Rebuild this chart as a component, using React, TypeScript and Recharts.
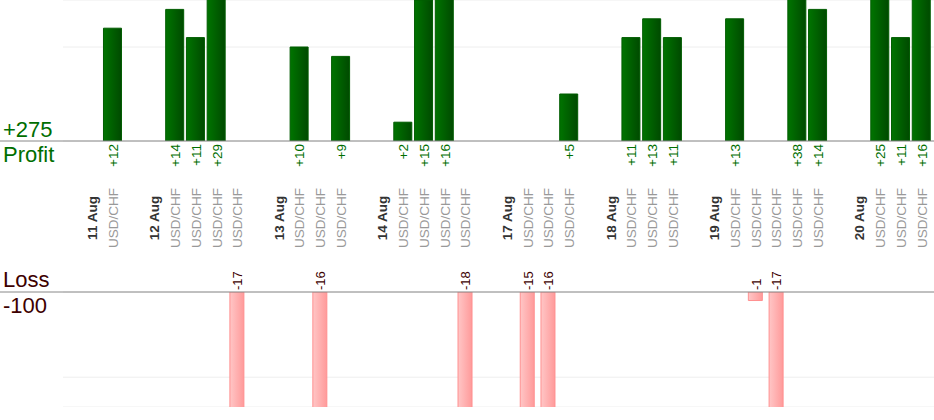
import { BarChart, Bar, XAxis, YAxis, CartesianGrid } from "recharts";

// one entry per slot on the shared x axis ("" = gap between days)
const slotLabels: string[] = [
  "", "11 Aug", "USD/CHF",
  "", "12 Aug", "USD/CHF", "USD/CHF", "USD/CHF", "USD/CHF",
  "", "13 Aug", "USD/CHF", "USD/CHF", "USD/CHF",
  "", "14 Aug", "USD/CHF", "USD/CHF", "USD/CHF", "USD/CHF",
  "", "17 Aug", "USD/CHF", "USD/CHF", "USD/CHF",
  "", "18 Aug", "USD/CHF", "USD/CHF", "USD/CHF",
  "", "19 Aug", "USD/CHF", "USD/CHF", "USD/CHF", "USD/CHF", "USD/CHF",
  "", "20 Aug", "USD/CHF", "USD/CHF", "USD/CHF",
];

const profitValues: (number | null)[] = [
  null, null, 12,
  null, null, 14, 11, 29, null,
  null, null, 10, null, 9,
  null, null, 2, 15, 16, null,
  null, null, null, null, 5,
  null, null, 11, 13, 11,
  null, null, 13, null, null, 38, 14,
  null, null, 25, 11, 16,
];

const lossValues: (number | null)[] = [
  null, null, null,
  null, null, null, null, null, -17,
  null, null, null, -16, null,
  null, null, null, null, null, -18,
  null, null, -15, -16, null,
  null, null, null, null, null,
  null, null, null, -1, -17, null, null,
  null, null, null, null, null,
];

const data = slotLabels.map((label, i) => ({
  slot: String(i),
  label,
  profit: profitValues[i],
  loss: lossValues[i],
}));

const totalProfit = profitValues.reduce<number>((s, v) => s + (v ?? 0), 0);
const totalLoss = lossValues.reduce<number>((s, v) => s + (v ?? 0), 0);

const FONT = "'Liberation Sans', Arial, sans-serif";
const GREEN = "#006e00";
const MAROON = "#3d0000";

const ProfitTick = (props: any) => {
  const { x, y, payload } = props;
  const i = Number(payload.value);
  const label = slotLabels[i];
  const p = profitValues[i];
  const isDate = label.endsWith("Aug");
  return (
    <g>
      {p != null && (
        <text
          transform={`translate(${x + 5},${y + 3}) rotate(-90)`}
          textAnchor="end"
          fill={GREEN}
          fontSize={13.5}
          fontFamily={FONT}
        >
          {`+${p}`}
        </text>
      )}
      {label && (
        <text
          transform={`translate(${x + 5},${y + 77}) rotate(-90)`}
          textAnchor="middle"
          fill={isDate ? "#333" : "#999"}
          fontWeight={isDate ? "bold" : "normal"}
          fontSize={13.5}
          fontFamily={FONT}
        >
          {label}
        </text>
      )}
    </g>
  );
};

const LossTick = (props: any) => {
  const { x, y, payload } = props;
  const l = lossValues[Number(payload.value)];
  if (l == null) return <g />;
  return (
    <text
      transform={`translate(${x + 5},${y - 2}) rotate(-90)`}
      textAnchor="start"
      fill={MAROON}
      fontSize={13}
      fontFamily={FONT}
    >
      {String(l)}
    </text>
  );
};

const sideLabel = (text: string, top: number, color: string) => (
  <div
    style={{
      position: "absolute",
      left: 3,
      top,
      fontSize: 22,
      lineHeight: "22px",
      fontFamily: FONT,
      color,
    }}
  >
    {text}
  </div>
);

export default function App() {
  return (
    <div style={{ position: "absolute", left: 0, top: 0, width: 934, height: 420, background: "#fff" }}>
      {/* Profit */}
      <div style={{ position: "absolute", left: 0, top: 0 }}>
        <BarChart width={934} height={250} data={data} margin={{ top: 0, right: 0, bottom: 0, left: 0 }}>
          <defs>
            <linearGradient id="gProfit" x1="0" y1="0" x2="1" y2="0">
              <stop offset="0%" stopColor="#007400" />
              <stop offset="100%" stopColor="#004a00" />
            </linearGradient>
          </defs>
          <CartesianGrid vertical={false} stroke="#eee" x={63} width={871} />
          <XAxis
            dataKey="slot"
            interval={0}
            height={109}
            tickSize={0}
            tickMargin={0}
            tickLine={false}
            padding={{ left: 61, right: 2 }}
            axisLine={{ stroke: "#888" }}
            tick={<ProfitTick />}
          />
          <YAxis hide domain={[0, 15]} ticks={[10]} allowDataOverflow />
          <Bar
            dataKey="profit"
            barSize={18}
            fill="url(#gProfit)"
            stroke="#005c00"
            strokeWidth={1}
            isAnimationActive={false}
          />
        </BarChart>
      </div>

      {/* Loss */}
      <div style={{ position: "absolute", left: 0, top: 250 }}>
        <BarChart width={934} height={157} data={data} margin={{ top: 0, right: 0, bottom: 0, left: 0 }}>
          <defs>
            <linearGradient id="gLoss" x1="0" y1="0" x2="1" y2="0">
              <stop offset="0%" stopColor="#ffc6c6" />
              <stop offset="100%" stopColor="#ff9a9a" />
            </linearGradient>
          </defs>
          <CartesianGrid vertical={false} stroke="#eee" x={63} width={871} />
          <XAxis
            dataKey="slot"
            orientation="top"
            interval={0}
            height={42}
            tickSize={0}
            tickMargin={0}
            tickLine={false}
            padding={{ left: 61, right: 2 }}
            axisLine={{ stroke: "#888" }}
            tick={<LossTick />}
          />
          <YAxis hide domain={[-13.5, 0]} ticks={[-10]} allowDataOverflow />
          <Bar
            dataKey="loss"
            barSize={14}
            fill="url(#gLoss)"
            stroke="#ff9090"
            strokeWidth={1}
            isAnimationActive={false}
          />
        </BarChart>
      </div>

      {sideLabel(`+${totalProfit}`, 119, GREEN)}
      {sideLabel("Profit", 144, GREEN)}
      {sideLabel("Loss", 269, MAROON)}
      {sideLabel(String(totalLoss), 295, MAROON)}
    </div>
  );
}
